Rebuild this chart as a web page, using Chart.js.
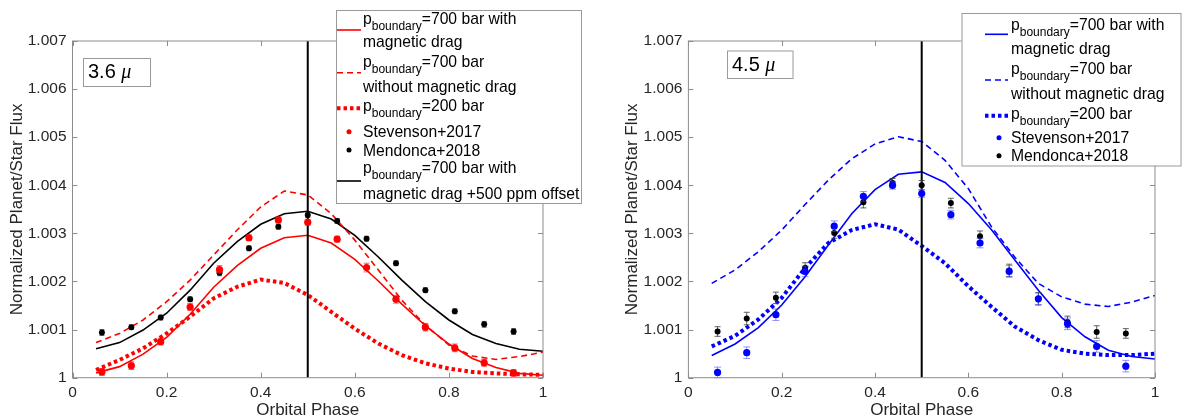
<!DOCTYPE html>
<html>
<head>
<meta charset="utf-8">
<script src="https://cdn.jsdelivr.net/npm/chart.js@4.4.1/dist/chart.umd.min.js"></script>
<style>
  body { margin: 0; background: #fff; }
  #wrap { position: relative; width: 1182px; height: 419px; }
  canvas { position: absolute; top: 0; }
  #left { left: 0; }
  #right { left: 591px; }
</style>
</head>
<body>
<div id="wrap">
  <canvas id="left" width="591" height="419"></canvas>
  <canvas id="right" width="591" height="419"></canvas>
</div>
<script>
// ---- data ----
const modelPhase = [0.05, 0.1, 0.15, 0.2, 0.25, 0.3, 0.35, 0.4, 0.45, 0.5,
                    0.55, 0.6, 0.65, 0.7, 0.75, 0.8, 0.85, 0.9, 0.95, 1.0];
const dataPhase = [0.0625, 0.125, 0.1875, 0.25, 0.3125, 0.375, 0.4375, 0.5,
                   0.5625, 0.625, 0.6875, 0.75, 0.8125, 0.875, 0.9375];
const xTickLabels = ['0', '0.2', '0.4', '0.6', '0.8', '1'];
const yTickLabels = ['1', '1.001', '1.002', '1.003', '1.004', '1.005', '1.006', '1.007'];
const vlinePhase = 0.5;

// 3.6 micron
const flux36Drag    = [1.00010, 1.00023, 1.00049, 1.00084, 1.00132, 1.00188, 1.00233, 1.00269, 1.00291, 1.00296,
                       1.00280, 1.00246, 1.00201, 1.00153, 1.00108, 1.00070, 1.00040, 1.00021, 1.00009, 1.00005];
const flux36NoDrag  = [1.00073, 1.00092, 1.00120, 1.00158, 1.00203, 1.00255, 1.00307, 1.00355, 1.00388, 1.00380,
                       1.00341, 1.00286, 1.00224, 1.00161, 1.00109, 1.00068, 1.00045, 1.00038, 1.00044, 1.00053];
const flux36P200    = [1.00016, 1.00037, 1.00061, 1.00092, 1.00127, 1.00165, 1.00189, 1.00204, 1.00197, 1.00172,
                       1.00137, 1.00102, 1.00071, 1.00047, 1.00030, 1.00019, 1.00012, 1.00009, 1.00007, 1.00006];
const flux36Offset  = [1.00060, 1.00073, 1.00099, 1.00134, 1.00182, 1.00238, 1.00283, 1.00319, 1.00341, 1.00346,
                       1.00330, 1.00296, 1.00251, 1.00203, 1.00158, 1.00120, 1.00090, 1.00071, 1.00059, 1.00055];
const stev36    = [1.00012, 1.00025, 1.00075, 1.00147, 1.00225, 1.00291, 1.00328, 1.00323,
                   1.00288, 1.00229, 1.00163, 1.00105, 1.00062, 1.00031, 1.00010];
const stev36Err = [0.00007, 0.00008, 0.00007, 0.00007, 0.00008, 0.00006, 0.00006, 0.00006,
                   0.00006, 0.00009, 0.00008, 0.00008, 0.00008, 0.00007, 0.00007];
const mend36    = [1.00094, 1.00105, 1.00125, 1.00163, 1.00218, 1.00269, 1.00314, 1.00338,
                   1.00326, 1.00289, 1.00238, 1.00182, 1.00138, 1.00111, 1.00096];
const mend36Err = [0.00006, 0.00005, 0.00005, 0.00005, 0.00006, 0.00005, 0.00005, 0.00005,
                   0.00005, 0.00005, 0.00005, 0.00005, 0.00005, 0.00006, 0.00006];

// 4.5 micron
const flux45Drag    = [1.00046, 1.00070, 1.00104, 1.00151, 1.00210, 1.00276, 1.00341, 1.00391, 1.00423, 1.00428,
                       1.00406, 1.00362, 1.00307, 1.00244, 1.00182, 1.00125, 1.00085, 1.00057, 1.00044, 1.00039];
const flux45NoDrag  = [1.00196, 1.00224, 1.00262, 1.00307, 1.00360, 1.00411, 1.00455, 1.00486, 1.00501, 1.00491,
                       1.00452, 1.00393, 1.00313, 1.00250, 1.00196, 1.00168, 1.00153, 1.00148, 1.00157, 1.00171];
const flux45P200    = [1.00065, 1.00087, 1.00121, 1.00166, 1.00228, 1.00280, 1.00307, 1.00319, 1.00308, 1.00274,
                       1.00238, 1.00190, 1.00147, 1.00106, 1.00078, 1.00058, 1.00050, 1.00047, 1.00047, 1.00050];
const stev45    = [1.00011, 1.00052, 1.00131, 1.00221, 1.00315, 1.00377, 1.00400, 1.00383,
                   1.00339, 1.00280, 1.00221, 1.00164, 1.00112, 1.00065, 1.00024];
const stev45Err = [0.00011, 0.00012, 0.00012, 0.00011, 0.00011, 0.00010, 0.00008, 0.00008,
                   0.00009, 0.00010, 0.00012, 0.00012, 0.00012, 0.00012, 0.00012];
const mend45    = [1.00096, 1.00123, 1.00166, 1.00228, 1.00301, 1.00365, 1.00405, 1.00400,
                   1.00363, 1.00294, 1.00223, 1.00164, 1.00116, 1.00095, 1.00092];
const mend45Err = [0.00010, 0.00013, 0.00012, 0.00011, 0.00011, 0.00012, 0.00009, 0.00010,
                   0.00010, 0.00011, 0.00013, 0.00013, 0.00012, 0.00013, 0.00010];

const legend36 = [
  ['p_boundary=700 bar with', 'magnetic drag'],
  ['p_boundary=700 bar', 'without magnetic drag'],
  ['p_boundary=200 bar'],
  ['Stevenson+2017'],
  ['Mendonca+2018'],
  ['p_boundary=700 bar with', 'magnetic drag +500 ppm offset']
];
const legend45 = [
  ['p_boundary=700 bar with', 'magnetic drag'],
  ['p_boundary=700 bar', 'without magnetic drag'],
  ['p_boundary=200 bar'],
  ['Stevenson+2017'],
  ['Mendonca+2018']
];

// ---- styling helpers ----
const FONT = '"Liberation Sans", Arial, Helvetica, sans-serif';
const axisGray = '#8c8c8c';
const textGray = '#262626';

function pts(xs, ys) {
  return xs.map((x, i) => ({ x: x, y: ys[i] }));
}

function richText(ctx, str, x, y) {
  const parts = str.split('_boundary');
  ctx.font = '15.7px ' + FONT;
  ctx.fillText(parts[0], x, y);
  if (parts.length === 1) return;
  x += ctx.measureText(parts[0]).width;
  ctx.font = '12px ' + FONT;
  ctx.fillText('boundary', x, y + 6);
  x += ctx.measureText('boundary').width;
  ctx.font = '15.7px ' + FONT;
  ctx.fillText(parts[1], x, y);
}

// error bars drawn just before the point dataset
const errorBars = {
  id: 'errorBars',
  beforeDatasetDraw(chart, args) {
    const ds = chart.data.datasets[args.index];
    if (!ds.errors) return;
    const ctx = chart.ctx, xs = chart.scales.x, ys = chart.scales.y;
    ctx.save();
    ctx.strokeStyle = ds.errColor;
    ctx.lineWidth = 1;
    ds.data.forEach((p, i) => {
      if (p.y == null) return;
      const e = ds.errors[i];
      const px = xs.getPixelForValue(p.x);
      const y1 = ys.getPixelForValue(p.y - e), y2 = ys.getPixelForValue(p.y + e);
      const c = ds.capW;
      ctx.beginPath();
      ctx.moveTo(px, y1); ctx.lineTo(px, y2);
      ctx.moveTo(px - c, y1); ctx.lineTo(px + c, y1);
      ctx.moveTo(px - c, y2); ctx.lineTo(px + c, y2);
      ctx.stroke();
    });
    ctx.restore();
  }
};

// matlab-like box, inward ticks, text label box and legend
const figDecor = {
  id: 'figDecor',
  afterDraw(chart, args, opts) {
    const ctx = chart.ctx, a = chart.chartArea;
    const xs = chart.scales.x, ys = chart.scales.y;
    ctx.save();
    ctx.strokeStyle = axisGray;
    ctx.lineWidth = 1;
    ctx.strokeRect(a.left, a.top, a.right - a.left, a.bottom - a.top);
    ctx.beginPath();
    xs.ticks.forEach(t => {
      const px = Math.round(xs.getPixelForValue(t.value)) + 0.5;
      ctx.moveTo(px, a.bottom); ctx.lineTo(px, a.bottom - 5);
      ctx.moveTo(px, a.top); ctx.lineTo(px, a.top + 5);
    });
    ys.ticks.forEach(t => {
      const py = Math.round(ys.getPixelForValue(t.value)) + 0.5;
      ctx.moveTo(a.left, py); ctx.lineTo(a.left + 5, py);
      ctx.moveTo(a.right, py); ctx.lineTo(a.right - 5, py);
    });
    ctx.stroke();

    // wavelength box
    const lb = opts.label;
    ctx.fillStyle = '#fff';
    ctx.fillRect(lb.x, lb.y, lb.w, lb.h);
    ctx.strokeStyle = '#9a9a9a';
    ctx.strokeRect(lb.x + 0.5, lb.y + 0.5, lb.w, lb.h);
    ctx.fillStyle = '#000';
    ctx.textBaseline = 'alphabetic';
    ctx.font = '20px ' + FONT;
    ctx.fillText(lb.text, lb.x + 5, lb.y + lb.base);
    const tw = ctx.measureText(lb.text).width;
    ctx.font = 'italic 20px "Liberation Serif", "Times New Roman", serif';
    ctx.fillText(lb.greek, lb.x + 5 + tw, lb.y + lb.base);

    // legend
    const lg = opts.legend;
    ctx.fillStyle = '#fff';
    ctx.fillRect(lg.x, lg.y, lg.w, lg.h);
    ctx.strokeStyle = '#9a9a9a';
    ctx.strokeRect(lg.x + 0.5, lg.y + 0.5, lg.w, lg.h);
    lg.entries.forEach((en, k) => {
      const ds = chart.data.datasets[en.ds];
      if (ds.showLine === false) {
        ctx.fillStyle = ds.pointBackgroundColor;
        ctx.beginPath();
        ctx.arc(lg.markX, en.sy, 2.5, 0, Math.PI * 2);
        ctx.fill();
      } else {
        ctx.strokeStyle = ds.borderColor;
        ctx.lineWidth = ds.borderWidth;
        ctx.setLineDash(ds.borderDash || []);
        ctx.beginPath();
        ctx.moveTo(lg.sx1, en.sy); ctx.lineTo(lg.sx2, en.sy);
        ctx.stroke();
        ctx.setLineDash([]);
      }
      ctx.fillStyle = '#000';
      lg.texts[k].forEach((line, j) => richText(ctx, line, lg.tx, en.base[j]));
    });
    ctx.restore();
  }
};

function makeChart(id, sets, cfg) {
  return new Chart(document.getElementById(id).getContext('2d'), {
    type: 'line',
    data: { datasets: sets },
    plugins: [errorBars, figDecor],
    options: {
      responsive: false,
      animation: false,
      devicePixelRatio: 1,
      layout: { padding: { top: 41, right: cfg.padRight, left: 0, bottom: 0 } },
      plugins: {
        legend: { display: false },
        tooltip: { enabled: false },
        figDecor: { label: cfg.label, legend: cfg.legend }
      },
      scales: {
        x: {
          type: 'linear', min: 0, max: 1,
          grid: { display: false, drawTicks: false }, border: { display: false },
          ticks: { stepSize: 0.2, padding: 6, color: textGray, font: { family: FONT, size: 15.5 },
                   maxRotation: 0, callback: (v, i) => xTickLabels[i] },
          title: { display: true, text: 'Orbital Phase', color: textGray,
                   font: { family: FONT, size: 17, lineHeight: 1 }, padding: { top: 0, bottom: 0 } },
          afterFit: s => { s.height = 41.3; }
        },
        y: {
          type: 'linear', min: 1, max: 1.007,
          grid: { display: false, drawTicks: false }, border: { display: false },
          ticks: { stepSize: 0.001, padding: 6, color: textGray, font: { family: FONT, size: 15.5 },
                   callback: (v, i) => yTickLabels[i] },
          title: { display: true, text: 'Normalized Planet/Star Flux', color: textGray,
                   font: { family: FONT, size: 17, lineHeight: 1 }, padding: { top: cfg.yTitlePad, bottom: 0 } },
          afterFit: s => { s.width = cfg.yWidth; }
        }
      }
    }
  });
}

function lineSet(ys, color, kind) {
  const s = { data: pts(modelPhase, ys), borderColor: color, pointRadius: 0, fill: false, tension: 0, borderWidth: 1.6 };
  if (kind === 'dash') s.borderDash = [6, 4];
  if (kind === 'dot') { s.borderDash = [3.5, 3]; s.borderWidth = 4; }
  return s;
}
function pointSet(ys, errs, color, errColor, r, cap) {
  return { data: pts(dataPhase, ys), showLine: false, pointRadius: r, pointBackgroundColor: color,
           pointBorderWidth: 0, borderColor: color, errors: errs, errColor: errColor, capW: cap };
}
function vline() {
  return { data: [{ x: vlinePhase, y: 1 }, { x: vlinePhase, y: 1.007 }], borderColor: '#000',
           borderWidth: 2, pointRadius: 0, fill: false };
}

// dataset 0 is drawn on top
makeChart('left', [
  pointSet(stev36, stev36Err, '#ff0000', 'rgba(255,0,0,0.6)', 3.6, 3),
  pointSet(mend36, mend36Err, '#000000', 'rgba(60,60,60,0.8)', 3, 2.5),
  vline(),
  lineSet(flux36Drag, '#ff0000', 'solid'),
  lineSet(flux36NoDrag, '#ff0000', 'dash'),
  lineSet(flux36P200, '#ff0000', 'dot'),
  lineSet(flux36Offset, '#000000', 'solid')
], {
  padRight: 48, yWidth: 72.5, yTitlePad: 9,
  label: { x: 83, y: 58, w: 67, h: 28, base: 20, text: '3.6 ', greek: 'μ' },
  legend: {
    x: 336, y: 10, w: 245, h: 193, sx1: 337, sx2: 361, markX: 349, tx: 363,
    texts: legend36,
    entries: [
      { ds: 3, sy: 30, base: [23.5, 47] },
      { ds: 4, sy: 72.7, base: [67, 92] },
      { ds: 5, sy: 108.3, base: [111] },
      { ds: 0, sy: 131.7, base: [137] },
      { ds: 1, sy: 150, base: [155.5] },
      { ds: 6, sy: 181, base: [173, 198.5] }
    ]
  }
});

makeChart('right', [
  pointSet(stev45, stev45Err, '#0000ff', 'rgba(60,60,255,0.55)', 3.6, 3.5),
  pointSet(mend45, mend45Err, '#000000', 'rgba(60,60,60,0.8)', 3, 3),
  vline(),
  lineSet(flux45Drag, '#0000ff', 'solid'),
  lineSet(flux45NoDrag, '#0000ff', 'dash'),
  lineSet(flux45P200, '#0000ff', 'dot')
], {
  padRight: 27, yWidth: 97.4, yTitlePad: 33,
  label: { x: 136, y: 50.5, w: 65.5, h: 27.5, base: 20.5, text: '4.5 ', greek: 'μ' },
  legend: {
    x: 370.5, y: 13, w: 219, h: 152.5, sx1: 394, sx2: 417, markX: 408, tx: 420,
    texts: legend45,
    entries: [
      { ds: 3, sy: 34.3, base: [29.5, 54] },
      { ds: 4, sy: 80, base: [74, 99] },
      { ds: 5, sy: 115.7, base: [118.5] },
      { ds: 0, sy: 137.7, base: [143] },
      { ds: 1, sy: 155.7, base: [161] }
    ]
  }
});
</script>
</body>
</html>
